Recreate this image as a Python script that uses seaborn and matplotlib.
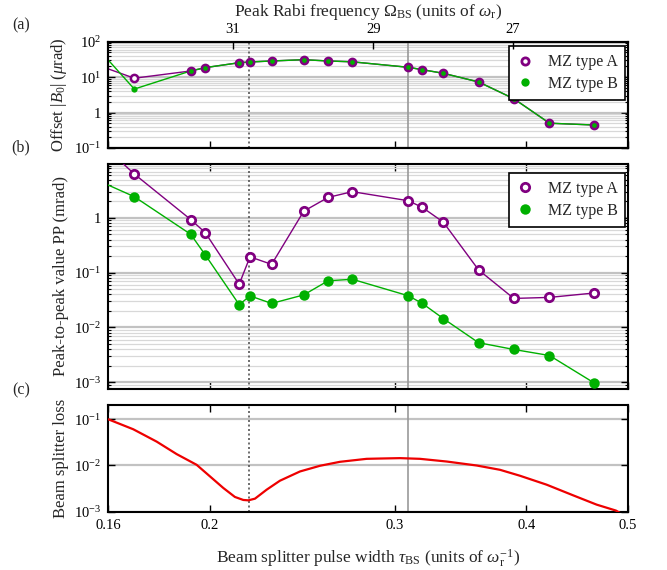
import numpy as np
import matplotlib
matplotlib.use('Agg')
import matplotlib.pyplot as plt
from matplotlib.lines import Line2D
from matplotlib.ticker import (LogLocator, FuncFormatter, NullFormatter,
                               FixedLocator, NullLocator)
import pandas as pd
import seaborn as sns

# pulse widths (first one lies just left of the plotted range)
tau = [0.15, 0.1695, 0.1918, 0.198, 0.2133, 0.2184, 0.229, 0.2457, 0.2592,
       0.2733, 0.309, 0.3186, 0.3336, 0.3604, 0.3893, 0.421, 0.4639]

# (a) offset |B0| in urad
offset_a = [34, 9.3, 14.9, 18.5, 25.5, 26.7, 28.5, 31, 28.5, 27, 18.9, 16.2,
            12.8, 7.3, 2.46, 0.50, 0.445]
offset_b = [260, 4.6, 14.9, 18.5, 25.5, 26.7, 28.5, 31, 28.5, 27, 18.9, 16.2,
            12.8, 7.3, 2.46, 0.50, 0.445]

# (b) peak-to-peak value in mrad
pp_a = [55, 6.3, 0.93, 0.537, 0.0615, 0.194, 0.1415, 1.32, 2.36, 3.0, 2.05,
        1.55, 0.834, 0.112, 0.0338, 0.0353, 0.0424]
pp_b = [6.9, 2.43, 0.50, 0.211, 0.026, 0.0376, 0.0274, 0.0392, 0.071, 0.0756,
        0.0378, 0.0274, 0.0145, 0.00526, 0.00396, 0.00307, 0.00098]

# (c) beam splitter loss curve
loss_tau = [0.1601, 0.1691, 0.178, 0.186, 0.1943, 0.2001, 0.206, 0.2113,
            0.2152, 0.2176, 0.2208, 0.2265, 0.2332, 0.2437, 0.2546, 0.266,
            0.282, 0.2904, 0.3034, 0.317, 0.3361, 0.3589, 0.3777, 0.3946,
            0.4184, 0.4435, 0.4668, 0.487, 0.495]
loss = [0.1, 0.0609, 0.0329, 0.01762, 0.01035, 0.00579, 0.00326, 0.002085,
        0.001795, 0.00176, 0.001914, 0.00299, 0.00468, 0.00743, 0.00986,
        0.01202, 0.01394, 0.01415, 0.01443, 0.01394, 0.01219, 0.01, 0.00807,
        0.006, 0.00384, 0.002255, 0.001422, 0.001057, 0.00085]

# top axis: peak Rabi frequency
rabi_tau = [0.2103, 0.2861, 0.3886]
rabi_labels = ['31', '29', '27']

x_ticks = [0.16, 0.2, 0.3, 0.4, 0.5]
x_labels = ['0.16', '0.2', '0.3', '0.4', '0.5']
tau_dotted = 0.218
tau_solid = 0.309

PURPLE = '#800080'
GREEN = '#00b000'

sns.set_theme(style='ticks')
plt.rcParams['font.family'] = ['Liberation Serif', 'DejaVu Serif']
plt.rcParams['mathtext.fontset'] = 'custom'
plt.rcParams['mathtext.rm'] = 'Liberation Serif'
plt.rcParams['mathtext.it'] = 'Liberation Serif:italic'
plt.rcParams['mathtext.bf'] = 'Liberation Serif:bold'


def log_fmt(v, pos):
    e = int(round(np.log10(v)))
    return '1' if e == 0 else r'$10^{%d}$' % e


def style_axis(ax, ylim, minor=True):
    ax.set_xscale('log')
    ax.set_yscale('log')
    ax.set_xlim(0.16, 0.5)
    ax.set_ylim(*ylim)
    ax.xaxis.set_major_locator(FixedLocator(x_ticks))
    ax.xaxis.set_minor_locator(NullLocator())
    ax.set_xticklabels(x_labels)
    ax.yaxis.set_major_locator(LogLocator(base=10, numticks=10))
    if minor:
        ax.yaxis.set_minor_locator(LogLocator(base=10, subs=np.arange(2, 10), numticks=10))
    else:
        ax.yaxis.set_minor_locator(NullLocator())
    ax.yaxis.set_major_formatter(FuncFormatter(log_fmt))
    ax.yaxis.set_minor_formatter(NullFormatter())
    ax.tick_params(which='both', direction='in', top=True, right=True,
                   labelsize=10.5, colors='black')
    ax.tick_params(which='major', length=5, width=1, pad=5)
    ax.tick_params(which='minor', length=2.5, width=0.8)
    ax.grid(False)
    ax.grid(True, axis='y', which='major', color='#c2c2c2', lw=1.6)
    if minor:
        ax.grid(True, axis='y', which='minor', color='#d8d8d8', lw=0.9)
    for s in ax.spines.values():
        s.set_linewidth(1.5)
        s.set_color('black')
    ax.set_axisbelow(True)
    ax.axvline(tau_dotted, color='#555555', ls=(0, (1.2, 1.5)), lw=1.2, zorder=2)
    ax.axvline(tau_solid, color='#999999', lw=1.2, zorder=2)


def add_legend(ax, anchor, ms_a, ms_b):
    handles = [Line2D([], [], ls='none', marker='o', ms=ms_a, mfc='white',
                      mec=PURPLE, mew=2),
               Line2D([], [], ls='none', marker='o', ms=ms_b, mfc=GREEN,
                      mec=GREEN, mew=0)]
    leg = ax.legend(handles, ['MZ type A', 'MZ type B'], loc='upper right',
                    bbox_to_anchor=anchor, frameon=True, fancybox=False,
                    edgecolor='black', framealpha=1, fontsize=11.5,
                    handlelength=1.0, handletextpad=0.9, borderpad=0.5,
                    labelspacing=0.35, borderaxespad=0)
    leg.get_frame().set_linewidth(1.2)


fig = plt.figure(figsize=(6.67, 5.70), dpi=100)
ax_a = fig.add_axes([0.1619, 0.7404, 0.7796, 0.1865])
ax_b = fig.add_axes([0.1619, 0.3184, 0.7796, 0.3939])
ax_c = fig.add_axes([0.1619, 0.1023, 0.7796, 0.1872])

df = pd.DataFrame({'tau': tau, 'offset_a': offset_a, 'offset_b': offset_b,
                   'pp_a': pp_a, 'pp_b': pp_b})
df_loss = pd.DataFrame({'tau': loss_tau, 'loss': loss})

# (a)
style_axis(ax_a, (0.1, 100))
sns.lineplot(data=df, x='tau', y='offset_a', ax=ax_a, color=PURPLE, lw=1,
             estimator=None, sort=False, zorder=3)
sns.lineplot(data=df, x='tau', y='offset_b', ax=ax_a, color=GREEN, lw=1,
             marker='o', ms=4.5, mfc=GREEN, mec=GREEN, mew=0,
             estimator=None, sort=False, zorder=4)
sns.lineplot(data=df.iloc[2:], x='tau', y='offset_a', ax=ax_a, ls='none',
             marker='o', ms=5.2, mfc='none', mec=PURPLE, mew=1.8,
             estimator=None, sort=False, zorder=5)
sns.lineplot(data=df.iloc[:2], x='tau', y='offset_a', ax=ax_a, ls='none',
             marker='o', ms=5.2, mfc='white', mec=PURPLE, mew=1.8,
             estimator=None, sort=False, zorder=5)
ax_a.tick_params(labelbottom=False)
ax_a.set_xlabel('')
ax_a.set_ylabel(r'Offset $|B_0|$ ($\mu$rad)', fontsize=12)
ax_a.yaxis.set_label_coords(-0.075, 0.5)
add_legend(ax_a, (0.995, 0.955), 5.2, 6)

ax_top = ax_a.twiny()
ax_top.set_xscale('log')
ax_top.set_xlim(0.16, 0.5)
ax_top.xaxis.set_major_locator(FixedLocator(rabi_tau))
ax_top.xaxis.set_minor_locator(NullLocator())
ax_top.set_xticklabels(rabi_labels)
ax_top.tick_params(direction='in', length=5, width=1, labelsize=10.5, pad=4,
                   colors='black')
ax_top.grid(False)
for s in ax_top.spines.values():
    s.set_linewidth(1.5)
    s.set_color('black')

# (b)
style_axis(ax_b, (10 ** -3.115, 9.6))
sns.lineplot(data=df, x='tau', y='pp_a', ax=ax_b, color=PURPLE, lw=1,
             marker='o', ms=6, mfc='white', mec=PURPLE, mew=2,
             estimator=None, sort=False, zorder=4)
sns.lineplot(data=df, x='tau', y='pp_b', ax=ax_b, color=GREEN, lw=1,
             marker='o', ms=7.5, mfc=GREEN, mec=GREEN, mew=0,
             estimator=None, sort=False, zorder=4)
ax_b.tick_params(labelbottom=False)
ax_b.set_xlabel('')
ax_b.set_ylabel('Peak-to-peak value PP (mrad)', fontsize=12)
ax_b.yaxis.set_label_coords(-0.075, 0.5)
add_legend(ax_b, (0.995, 0.96), 6, 7.5)

# (c)
style_axis(ax_c, (1e-3, 10 ** -0.69), minor=False)
sns.lineplot(data=df_loss, x='tau', y='loss', ax=ax_c, color='#ee0000', lw=1.6,
             estimator=None, sort=False, zorder=4)
ax_c.set_ylabel('Beam splitter loss', fontsize=12)
ax_c.yaxis.set_label_coords(-0.075, 0.5)
ax_c.set_xlabel(r'Beam splitter pulse width $\tau_{\rm BS}$ (units of $\omega_{\rm r}^{-1}$)',
                fontsize=12.5)
ax_c.xaxis.set_label_coords(0.5, -0.33)

fig.text(368 / 667, 1 - 12 / 570,
         r'Peak Rabi frequency $\Omega_{\rm BS}$ (units of $\omega_{\rm r}$)',
         ha='center', va='center', fontsize=12.5)
fig.text(21 / 667, 1 - 25 / 570, '(a)', ha='center', va='center', fontsize=11.5)
fig.text(21 / 667, 1 - 147 / 570, '(b)', ha='center', va='center', fontsize=11.5)
fig.text(21 / 667, 1 - 390 / 570, '(c)', ha='center', va='center', fontsize=11.5)

fig.savefig('out.png', dpi=100)
